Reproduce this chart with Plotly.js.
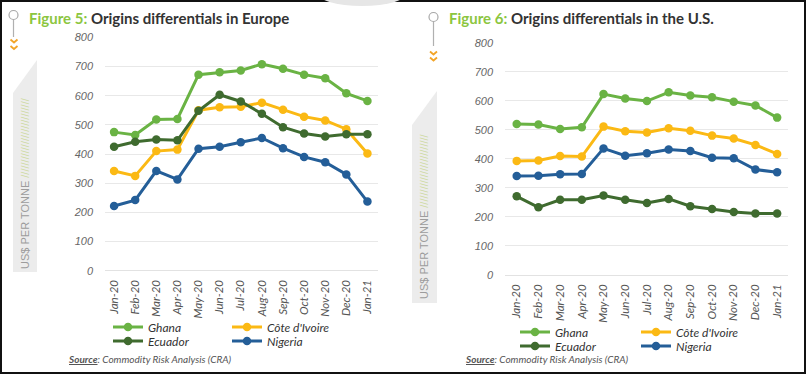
<!DOCTYPE html>
<html>
<head>
<meta charset="utf-8">
<script src="https://cdn.plot.ly/plotly-3.0.1.min.js"></script>
<style>html,body{margin:0;padding:0;background:#fff;}#chart{width:807px;height:376px;}</style>
</head>
<body>
<div id="chart"></div>
<script>
// ---- data ----
var months = ['Jan-20','Feb-20','Mar-20','Apr-20','May-20','Jun-20','Jul-20','Aug-20','Sep-20','Oct-20','Nov-20','Dec-20','Jan-21'];
var seriesNames = ['Ghana', "Côte d'Ivoire", 'Ecuador', 'Nigeria'];

var euGhana   = [475,465,518,520,672,680,686,708,692,672,660,608,582];
var euCote    = [342,325,410,415,550,560,562,576,552,528,515,485,402];
var euEcuador = [425,442,450,447,548,603,580,538,492,470,460,468,468];
var euNigeria = [222,242,342,313,418,425,440,455,420,390,372,330,237];

var usGhana   = [520,518,503,509,623,608,599,629,618,612,597,584,542];
var usCote    = [393,394,410,408,511,495,491,505,497,480,470,448,417];
var usEcuador = [271,233,259,259,274,259,248,262,237,227,217,212,212];
var usNigeria = [341,342,347,348,436,411,419,432,427,404,402,363,354];

var yTicks = [0,100,200,300,400,500,600,700,800];

// ---- styling helpers ----
var W = 807, H = 376;
function X(px){ return px / W; }
function Y(py){ return 1 - py / H; }
var colors = {'Ghana':'#6ab344', "Côte d'Ivoire":'#fbb914', 'Ecuador':'#3f6b2f', 'Nigeria':'#245e98'};
var human = "Lato, 'Open Sans', sans-serif";

function trace(name, yvals, xa, ya, legendId){
  return {
    type:'scatter', mode:'lines+markers', name:name,
    x: months, y: yvals, xaxis: xa, yaxis: ya,
    line:{color:colors[name], width:3},
    marker:{color:colors[name], size:8.5},
    legend: legendId, hoverinfo:'skip'
  };
}

var data = [
  trace("Côte d'Ivoire", euCote, 'x', 'y', 'legend3'),
  trace('Nigeria', euNigeria, 'x', 'y', 'legend4'),
  trace('Ghana', euGhana, 'x', 'y', 'legend'),
  trace('Ecuador', euEcuador, 'x', 'y', 'legend2'),
  trace('Ecuador', usEcuador, 'x2', 'y2', 'legend6'),
  trace('Nigeria', usNigeria, 'x2', 'y2', 'legend8'),
  trace("Côte d'Ivoire", usCote, 'x2', 'y2', 'legend7'),
  trace('Ghana', usGhana, 'x2', 'y2', 'legend5')
];

function xaxis(domain, range, anchor){
  return {
    domain: domain, anchor: anchor, type:'category',
    categoryorder:'array', categoryarray: months,
    range: range, tickangle:-90, ticks:'', showgrid:false, zeroline:false, showline:false,
    ticklabelstandoff: 6,
    tickfont:{family:human, size:11.5, color:'#555', style:'italic'}, fixedrange:true
  };
}
function yaxis(domain, anchor){
  return {
    domain: domain, anchor: anchor, range:[0,800], tickvals: yTicks,
    ticks:'', showgrid:true, gridcolor:'#e8e8e8', gridwidth:1,
    zeroline:true, zerolinecolor:'#e2e2e2', zerolinewidth:1, showline:false,
    ticklabelstandoff: 11,
    tickfont:{family:"'Liberation Sans', Arial, sans-serif", size:11, color:'#666', style:'italic'}, fixedrange:true
  };
}
function legend(px, py){
  return {
    x: X(px), y: Y(py), xanchor:'left', yanchor:'middle', xref:'paper', yref:'paper',
    bgcolor:'rgba(0,0,0,0)', borderwidth:0, itemwidth:30,
    font:{family:human, size:12, color:'#333', style:'italic'}
  };
}

var shapes = [
  // grey side bands
  {type:'path', xref:'paper', yref:'paper', layer:'below', line:{width:0}, fillcolor:'#ececec',
   path:'M'+X(13)+','+Y(272)+' L'+X(13)+','+Y(93)+' L'+X(37)+','+Y(60)+' L'+X(37)+','+Y(272)+' Z'},
  {type:'path', xref:'paper', yref:'paper', layer:'below', line:{width:0}, fillcolor:'#ececec',
   path:'M'+X(412)+','+Y(303)+' L'+X(412)+','+Y(125)+' L'+X(437)+','+Y(91)+' L'+X(437)+','+Y(303)+' Z'},
  // icon connectors
  {type:'line', xref:'paper', yref:'paper', x0:X(13.5), x1:X(13.5), y0:Y(19.5), y1:Y(37), line:{color:'#b0b0b0', width:1.2}},
  {type:'circle', xref:'paper', yref:'paper', x0:X(9), x1:X(18), y0:Y(10.5), y1:Y(19.5), fillcolor:'#fff', line:{color:'#a8a8a8', width:1.2}},
  {type:'path', xref:'paper', yref:'paper', line:{color:'#f2a427', width:1.8},
   path:'M'+X(10.5)+','+Y(39.5)+' L'+X(14)+','+Y(42.5)+' L'+X(17.5)+','+Y(39.5)},
  {type:'path', xref:'paper', yref:'paper', line:{color:'#f2a427', width:1.8},
   path:'M'+X(10.5)+','+Y(46)+' L'+X(14)+','+Y(49)+' L'+X(17.5)+','+Y(46)},
  {type:'line', xref:'paper', yref:'paper', x0:X(433.5), x1:X(433.5), y0:Y(21.5), y1:Y(46), line:{color:'#b0b0b0', width:1.2}},
  {type:'circle', xref:'paper', yref:'paper', x0:X(429), x1:X(438), y0:Y(12.5), y1:Y(21.5), fillcolor:'#fff', line:{color:'#a8a8a8', width:1.2}},
  {type:'path', xref:'paper', yref:'paper', line:{color:'#f2a427', width:1.8},
   path:'M'+X(430)+','+Y(51.5)+' L'+X(433.5)+','+Y(54.5)+' L'+X(437)+','+Y(51.5)},
  {type:'path', xref:'paper', yref:'paper', line:{color:'#f2a427', width:1.8},
   path:'M'+X(430)+','+Y(57.5)+' L'+X(433.5)+','+Y(60.5)+' L'+X(437)+','+Y(57.5)},
  // outer frame
  {type:'rect', xref:'paper', yref:'paper', x0:X(1), x1:X(805), y0:Y(1), y1:Y(373), line:{color:'#111', width:2}, fillcolor:'rgba(0,0,0,0)'},
  // soft shadow at top
  {type:'circle', xref:'paper', yref:'paper', x0:X(316), x1:X(408), y0:Y(-22), y1:Y(6), fillcolor:'#e6e6e6', line:{width:0}}
];

var annotations = [
  {xref:'paper', yref:'paper', x:X(27), y:Y(18), xanchor:'left', yanchor:'middle', showarrow:false,
   text:'<b><span style="color:#8cc63f">Figure 5:</span> Origins differentials in Europe</b>',
   font:{family:human, size:15, color:'#333'}},
  {xref:'paper', yref:'paper', x:X(447), y:Y(18), xanchor:'left', yanchor:'middle', showarrow:false,
   text:'<b><span style="color:#8cc63f">Figure 6:</span> Origins differentials in the U.S.</b>',
   font:{family:human, size:15, color:'#333'}},
  {xref:'paper', yref:'paper', x:X(25), y:Y(271), xanchor:'center', yanchor:'bottom', showarrow:false, textangle:-90,
   text:'US$ PER TONNE <span style="color:#cdd9a0">//////////////////////////</span>',
   font:{family:"'Liberation Sans', Arial, sans-serif", size:11, color:'#9c9c9c'}},
  {xref:'paper', yref:'paper', x:X(424), y:Y(301), xanchor:'center', yanchor:'bottom', showarrow:false, textangle:-90,
   text:'US$ PER TONNE <span style="color:#cdd9a0">////////////////////////</span>',
   font:{family:"'Liberation Sans', Arial, sans-serif", size:11, color:'#9c9c9c'}},
  {xref:'paper', yref:'paper', x:X(66), y:Y(359), xanchor:'left', yanchor:'middle', showarrow:false,
   text:'<i><b><u>Source</u></b>: Commodity Risk Analysis (CRA)</i>',
   font:{family:human, size:10, color:'#555', style:'italic'}},
  {xref:'paper', yref:'paper', x:X(463), y:Y(359), xanchor:'left', yanchor:'middle', showarrow:false,
   text:'<i><b><u>Source</u></b>: Commodity Risk Analysis (CRA)</i>',
   font:{family:human, size:10, color:'#555', style:'italic'}}
];

var layout = {
  width: W, height: H, margin:{l:0, r:0, t:0, b:0, pad:0},
  paper_bgcolor:'#fff', plot_bgcolor:'rgba(0,0,0,0)',
  showlegend:true,
  xaxis: xaxis([X(105), X(378)], [-0.43, 12.5], 'y'),
  yaxis: yaxis([Y(270.7), Y(37.3)], 'x'),
  xaxis2: xaxis([X(505), X(788)], [-0.54, 12.5], 'y2'),
  yaxis2: yaxis([Y(275), Y(42.7)], 'x2'),
  legend: legend(108, 327),
  legend2: legend(108, 341),
  legend3: legend(227, 327),
  legend4: legend(227, 341),
  legend5: legend(515, 332),
  legend6: legend(515, 346),
  legend7: legend(636, 332),
  legend8: legend(636, 346),
  shapes: shapes,
  annotations: annotations
};

Plotly.newPlot('chart', data, layout, {staticPlot:true, displayModeBar:false});
</script>
</body>
</html>
